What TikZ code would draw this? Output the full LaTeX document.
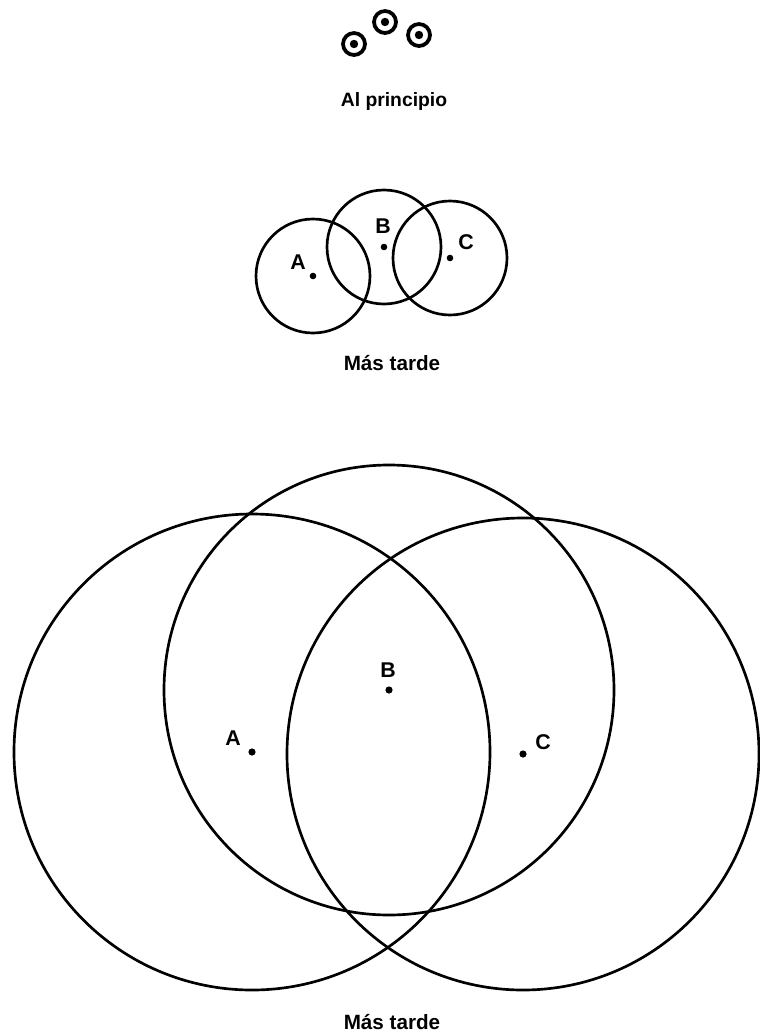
\documentclass[tikz,border=0pt]{standalone}
\usepackage{fontspec}
\setmainfont{Liberation Sans}
\usetikzlibrary{positioning,calc}
\tikzset{
  ring/.style={draw, line width=2pt},
  seed/.style={draw, line width=2.8pt},
  lbl/.style={font=\bfseries\fontsize{16}{18}\selectfont, inner sep=0pt},
  captxt/.style={font=\bfseries\fontsize{14.5}{17}\selectfont, inner sep=0pt},
  latetxt/.style={font=\bfseries\fontsize{15.5}{18}\selectfont, inner sep=0pt},
}

\begin{document}
\begin{tikzpicture}[x=0.75pt, y=-0.75pt]
  \useasboundingbox (0,0) rectangle (760,1036);
  % at the start: three tiny seeds
  \foreach \x/\y [count=\i] in {354/44,385/22,419/35} {
    \coordinate (s\i) at (\x,\y);
    \draw[seed] (s\i) circle (11);
    \fill (s\i) circle (4.2);
  }
  \node[captxt] (t1) at (394,101) {Al principio};

  % a little later
  \coordinate (ma) at (313,276);
  \coordinate (mb) at (384,247);
  \coordinate (mc) at (450,258);
  \foreach \c in {ma,mb,mc} {
    \draw[ring] (\c) circle (57);
    \fill (\c) circle (3.3);
  }
  \node[lbl] (la) at (298,262) {A};
  \node[lbl] (lb) at (383,226) {B};
  \node[lbl] (lc) at (466,242) {C};
  \node[latetxt] (t2) at (392,363) {Más tarde};

  % much later
  \coordinate (ga) at (252,752);
  \coordinate (gb) at (389,690);
  \coordinate (gc) at (523,754);
  \draw[ring] (ga) circle (238);
  \draw[ring] (gb) circle (225);
  \draw[ring] (gc) circle (236);
  \foreach \c in {ga,gb,gc} \fill (\c) circle (3.6);
  \node[lbl] (ba) at (233,738) {A};
  \node[lbl] (bb) at (388,670) {B};
  \node[lbl] (bc) at (543,742) {C};
  \node[latetxt] (t3) at (392,1022) {Más tarde};
\end{tikzpicture}
\end{document}
